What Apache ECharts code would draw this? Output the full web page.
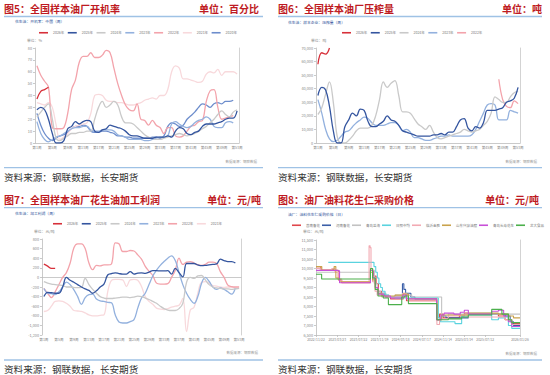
<!DOCTYPE html>
<html><head><meta charset="utf-8">
<script src="https://cdn.jsdelivr.net/npm/echarts@6/dist/echarts.min.js"></script>
<style>html,body{margin:0;padding:0;background:#fff}#c{width:550px;height:375px}</style>
</head><body><div id="c"></div>
<script>
// ---------- shared weekly categories ----------
const weeks = ['第1周','第2周','第3周','第4周','第5周','第6周','第7周','第8周','第9周','第10周','第11周','第12周','第13周','第14周','第15周','第16周','第17周','第18周','第19周','第20周','第21周','第22周','第23周','第24周','第25周','第26周','第27周','第28周','第29周','第30周','第31周','第32周','第33周','第34周','第35周','第36周','第37周','第38周','第39周','第40周','第41周','第42周','第43周','第44周','第45周','第46周','第47周','第48周','第49周','第50周','第51周','第52周','第53周'];

// ---------- Fig 5: operating rate (%) ----------
const p1Names = ['2026年','2025年','2024年','2023年','2022年','2021年','2020年'];
const p1_2026 = [37,43.5,45,47];
const p1_2025 = [28,30,28,20,8,0,0,2,12,14,18,16,18,19,18,10,9,11,12,15,14,13,12,10,7,6,6,5,4,4,4,5,5,5,6,5,10,13,12,8,7,9,10,14,16,16,16,17,18,20,21,21,27];
const p1_2024 = [22,26,30,33,20,4,2,4,6,8,8,9,9,10,10,20,30,35,30,32,35,32,22,17,17,16,13,10,7,5,4,3,3,4,5,6,7,8,7,6,7,8,10,12,14,17,20,24,27,24,22,26,28];
const p1_2023 = [18,8,3,1,3,5,6,8,10,12,13,13,14,14,11,10,10,11,11,11,10,7,6,5,3,3,3,3,2,2,3,4,5,5,6,16,18,16,14,13,14,17,19,20,22,20,14,13,13,17,18,17];
const p1_2022 = [65,57,52,47,13,12,12,13,25,45,53,68,73,73,76,72,72,74,78,76,63,50,40,32,28,27,33,20,19,15,19,15,13,8,13,13,6,5,6,10,14,15,18,19,35,44,45,30,20,21,22,23];
const p1_2021 = [34,33,32,34,30,15,3,5,8,12,14,15,16,17,25,40,41,40,36,35,35,34,34,33,32,32,33,34,36,37,38,37,40,40,45,60,65,63,54,54,53,52,51,52,58,60,59,62,57,60,60,60,58];
const p1_2020 = [25,15,8,4,2,4,6,7,9,12,14,14,15,14,10,9,9,10,10,9,8,6,6,5,5,4,4,4,4,4,5,5,4,6,14,17,16,14,15,20,23,26,30,33,32,30,33,34,33,35,35,36];

// ---------- Fig 6: crushing volume (t) ----------
const p2Names = ['2026年','2025年','2024年','2023年','2022年'];
const p2_2026 = [58000,66500,65500,70000];
const p2_2025 = [35000,41000,39000,27000,9000,0,0,12000,17000,22000,20000,25000,24000,16000,12000,12000,14000,16000,20000,17000,16000,13000,9000,8000,7000,6000,5000,5000,5000,5000,6000,6000,7000,6000,8000,8000,12000,17000,18000,11000,9000,12000,11000,15000,24000,24000,24000,25000,26000,30000,31000,33000,41000];
const p2_2024 = [21000,26000,36000,45000,30000,5000,0,0,2000,5000,9000,11000,11000,11000,13000,20000,32000,45000,41000,44000,46000,35000,23000,23000,22000,18000,14000,12000,10000,13000,8000,4000,3000,4000,5000,6000,7000,8000,10000,9000,8000,9000,10000,13000,16000,22000,34000,32000,30000,30000,34000,37000,38000];
const p2_2023 = [32000,22000,10000,3000,1000,2000,5000,8000,9000,12000,15000,17000,19000,18000,15000,13000,13000,13000,14000,15000,15000,13000,9000,10000,8000,4000,4000,3000,2000,2000,3000,4000,5000,5000,6000,5000,5000,5000,5000,5000,6000,10000,16000,22000,28000,29000,28000,17000,17000,17000,24000,23000,22000];
const p2_2022 = [null,null,null,null,null,null,null,null,null,null,null,null,null,null,null,null,null,null,null,null,null,null,null,null,null,null,null,null,null,null,null,null,null,null,null,null,null,null,null,null,null,null,null,null,null,null,null,47000,32000,27000,26000,31000,29000];

// ---------- Fig 7: processing profit (yuan/t) ----------
const p3Names = ['2026年','2025年','2024年','2023年','2022年','2021年'];
const p3_2026 = [275,235,190,190];
const p3_2025 = [-400,-310,-320,-330,-330,-200,0,-60,-100,-150,-200,-240,-270,-330,-280,-200,-140,50,80,95,80,70,70,120,70,90,95,85,110,140,140,135,135,140,70,190,100,10,290,290,290,260,245,250,260,270,280,380,350,330,330,300];
const p3_2024 = [-90,-120,-140,-150,-160,-170,-200,-200,-210,-215,-210,-20,-150,-250,-330,-400,-430,-440,-440,-430,-420,-410,-410,-420,-410,-390,-400,-430,-460,-500,-540,-600,-650,-680,-690,-690,-650,-540,-100,0,-20,30,40,-50,-150,-200,-220,-230,-240,-240,-250,-240,-230];
const p3_2023 = [-230,-330,-340,-360,-300,-200,-100,-150,-260,-400,-560,-420,-360,-350,-450,-490,-500,-520,-530,-780,-930,-950,-950,-920,-880,-640,-430,-330,-150,30,150,250,330,400,450,350,100,-150,-330,-460,-540,-400,-120,0,-80,-200,-250,-220,-250,-300,-350,-220];
const p3_2022 = [-230,-330,-420,-300,-150,0,100,300,620,700,700,600,300,160,250,240,260,260,280,720,700,540,540,560,550,470,380,230,130,40,-120,-140,-140,-130,0,150,400,270,320,330,300,260,250,270,320,320,290,120,0,-160,-190,-200,-200];
const p3_2021 = [-710,-690,-600,-500,-490,-500,-540,-600,-690,-700,-710,-740,-780,-800,-800,-790,-780,-300,-60,-40,-40,-50,-190,-50,-40,-60,-190,-400,-500,-560,-640,-660,-670,-650,-620,-600,-580,-440,-1130,-680,-620,-330,-100,-90,-120,-170,-180,-200,-210,-200,-210,-220,-230];

// ---------- Fig 8: peanut kernel purchase price (yuan/t), step series ----------
const p4Names = ['莒南鲁花','河南鲁花','青岛益海','日照中纺','临沂金胜','山东兴泉油脂','青岛长寿花生','龙大食品'];
const p4DateLabels = ['2022-11-22','2023-03-23','2023-07-22','2023-11-19','2024-03-18','2024-07-17','2024-11-14','2025-03-14','2025-07-12','2026-01-26'];
const p4Range = ['2022-11-22','2026-01-26'];
const p4_s1 = [['2022-11-22',10100],['2022-12-20',9950],['2023-02-20',9900],['2023-03-29',9400],['2023-04-17',9250],['2023-09-28',9900],['2023-10-15',9600],['2023-10-30',9200],['2023-11-12',8800],['2023-11-30',8600],['2023-12-25',8500],['2024-01-20',8400],['2024-04-02',8500],['2024-04-20',8300],['2024-10-10',7300],['2024-10-25',7600],['2024-11-15',7400],['2025-02-15',7500],['2025-03-15',7650],['2025-04-07',7600],['2025-09-25',7500],['2025-11-02',7300],['2025-12-10',7100],['2026-01-26',7100]];
const p4_s2 = [['2023-11-12',8700],['2023-12-20',8500],['2024-03-28',9200],['2024-04-05',8900],['2024-04-15',8700],['2024-05-15',8500],['2024-06-07',8400],['2024-10-08',7300],['2024-11-06',7500],['2024-12-01',7400],['2025-04-07',7600],['2025-11-02',7500],['2025-12-01',7200],['2025-12-20',7000],['2026-01-26',7000]];
const p4_s3 = [['2022-11-22',9800],['2023-09-28',9900],['2023-10-20',9200],['2023-11-05',8800],['2023-11-25',8700],['2023-12-25',8600],['2024-01-10',8500],['2024-02-15',8600],['2024-03-30',8700],['2024-04-20',8600],['2024-05-20',8500],['2024-11-06',7500],['2024-12-14',7600],['2025-04-07',7650],['2025-08-18',7600],['2026-01-26',7600]];
const p4_s4 = [['2023-01-31',10325],['2023-10-05',10325],['2023-10-18',10100],['2023-10-28',9800],['2023-11-06',9500],['2023-11-15',9200],['2023-11-25',9000],['2023-12-05',8800],['2023-12-20',8600],['2024-01-10',8500],['2024-02-15',8450],['2024-10-18',7400],['2024-10-28',7200],['2025-01-21',7100],['2025-02-28',7500],['2025-04-07',7550],['2025-08-18',7300],['2025-09-25',7400],['2025-11-02',7450],['2025-11-21',7000],['2025-12-10',6850],['2026-01-26',6850]];
const p4_s5 = [['2022-11-22',10000],['2022-12-15',9950],['2023-02-20',10000],['2023-03-10',9800],['2023-03-29',9450],['2023-04-17',9300],['2023-09-20',11200],['2023-09-26',11100],['2023-10-01',10000],['2023-10-10',9300],['2023-10-24',8800],['2023-11-05',8600],['2023-12-01',8500],['2024-03-30',8700],['2024-04-15',8600],['2024-05-01',8300],['2024-10-10',7050],['2024-10-25',7350],['2024-12-14',7500],['2025-02-15',7550],['2025-04-07',7450],['2025-11-02',7300],['2025-12-10',7050],['2026-01-26',7050]];
const p4_s6 = [['2022-11-22',10100],['2022-12-25',9900],['2023-02-25',9950],['2023-03-05',10100],['2023-03-15',9500],['2023-04-05',9300],['2023-09-28',9800],['2023-10-10',9400],['2023-10-25',9000],['2023-11-10',8700],['2023-12-01',8550],['2024-02-15',8600],['2024-04-01',8650],['2024-05-01',8400],['2024-10-10',7300],['2024-11-06',7550],['2025-04-07',7650],['2025-09-25',7600],['2025-11-21',7500],['2025-12-20',7400],['2026-01-26',7400]];
const p4_s7 = [['2022-11-22',9900],['2023-03-20',9880],['2023-04-05',9250],['2023-09-28',9900],['2023-10-12',9500],['2023-10-26',9000],['2023-11-10',8650],['2023-12-10',8550],['2024-01-20',8450],['2024-03-30',8600],['2024-04-20',8400],['2024-10-08',7300],['2024-11-01',7550],['2024-11-20',7650],['2025-01-15',7600],['2025-02-20',7700],['2025-03-15',7800],['2025-04-07',7600],['2025-08-18',7750],['2025-09-25',7800],['2025-10-25',7500],['2025-11-21',7200],['2025-12-10',6950],['2026-01-26',6950]];
const p4_s8 = [['2022-11-22',9700],['2022-12-24',9450],['2023-09-28',10000],['2023-10-10',9500],['2023-10-25',8900],['2023-11-10',8550],['2023-12-10',8450],['2024-01-08',8100],['2024-03-24',8500],['2024-04-10',8550],['2024-05-01',8150],['2024-10-10',7300],['2024-12-14',7350],['2025-02-28',7450],['2025-04-07',7550],['2025-08-18',7850],['2025-09-25',7850],['2025-10-15',7600],['2025-11-21',7300],['2025-12-10',7150],['2026-01-26',7150]];

// ---------- styling ----------
const FONT = '"Noto Sans CJK SC","Noto Sans",sans-serif';
const yearColors = {'2026年':'#d7303a','2025年':'#34559f','2024年':'#c9c9c9','2023年':'#93b1de','2022年':'#f3a3ab','2021年':'#f8d9dc','2020年':'#6d8dcc'};
const p4Colors = ['#e0474c','#3b5fa8','#c2c2c2','#5ad3df','#f2aab3','#c9a24c','#c850d8','#4cb04c'];
const toTs = s => { const a = s.split('-').map(Number); return new Date(a[0], a[1]-1, a[2]).getTime(); };
const fmtThousands = v => Number(v).toLocaleString('en-US');
const pad2 = n => (n < 10 ? '0' : '') + n;
const fmtDate = v => { const d = new Date(v); return d.getFullYear() + '/' + pad2(d.getMonth()+1) + '/' + pad2(d.getDate()); };

function lineSeries(name, data, xi, yi, color, smooth) {
  return {name, type:'line', data, xAxisIndex:xi, yAxisIndex:yi, symbol:'none', smooth: smooth,
    connectNulls:false, lineStyle:{width:1.3, color}, itemStyle:{color}};
}
function catAxis(gi, extra) {
  return Object.assign({type:'category', gridIndex:gi, data:weeks, boundaryGap:true,
    axisLine:{lineStyle:{color:'#bdbdbd', width:0.8}},
    axisTick:{interval:3, alignWithLabel:true, length:2, lineStyle:{color:'#bdbdbd', width:0.8}},
    axisLabel:{interval:3, fontSize:3.6, color:'#888', margin:3, fontFamily:FONT}}, extra || {});
}
function valAxis(gi, min, max, interval, fmt) {
  const a = {type:'value', gridIndex:gi, min, max, interval, splitLine:{show:false},
    axisLine:{show:true, lineStyle:{color:'#bdbdbd', width:0.8}},
    axisTick:{show:true, length:2, lineStyle:{color:'#bdbdbd', width:0.8}},
    axisLabel:{fontSize:3.8, color:'#888', margin:3, fontFamily:FONT}};
  if (fmt) a.axisLabel.formatter = fmt;
  return a;
}
function borderAxis(gi) {
  return {type:'value', gridIndex:gi, position:'right', min:0, max:1, splitLine:{show:false},
    axisLine:{show:true, onZero:false, lineStyle:{color:'#c8c8c8', width:0.8}}, axisTick:{show:false}, axisLabel:{show:false}};
}
function legend(left, top, names, gap) {
  return {left, top, width:262, data:names, icon:'rect', itemWidth:9, itemHeight:1.6, itemGap:gap, padding:0,
    textStyle:{fontSize:3.5, color:'#777', fontFamily:FONT}, selectedMode:false};
}
function txt(x, y, text, size, color, weight, align) {
  const font = (weight || 'normal') + ' ' + size + 'px ' + FONT;
  return {type:'text', x, y, silent:true, style:{text, fill:color, font,
    textAlign:align||'left', textVerticalAlign:'middle'}};
}
function hline(x1, x2, y, color, w) {
  return {type:'line', silent:true, shape:{x1, y1:y, x2, y2:y}, style:{stroke:color, lineWidth:w}};
}

const RED = '#be1a22', BLUE_LINE = '#9fc2e5', SUB = '#2c4f9a';
const graphics = [
  txt(4, 8, '图5：全国样本油厂开机率', 10, RED, 'bold'),
  txt(259, 8, '单位：百分比', 10, RED, 'bold', 'right'),
  txt(278, 8, '图6：全国样本油厂压榨量', 10, RED, 'bold'),
  txt(542, 8, '单位：吨', 10, RED, 'bold', 'right'),
  txt(4, 199, '图7：全国样本油厂花生油加工利润', 10, RED, 'bold'),
  txt(261, 199, '单位：元/吨', 10, RED, 'bold', 'right'),
  txt(278, 199, '图8：油厂油料花生仁采购价格', 10, RED, 'bold'),
  txt(539, 199, '单位：元/吨', 10, RED, 'bold', 'right'),
  hline(4, 263, 16.5, BLUE_LINE, 1.3), hline(278, 542, 16.5, BLUE_LINE, 1.3),
  hline(4, 263, 207.7, BLUE_LINE, 1.3), hline(278, 542, 207.7, BLUE_LINE, 1.3),
  hline(4, 263, 167.7, BLUE_LINE, 1.3), hline(278, 542, 167.7, BLUE_LINE, 1.3),
  hline(4, 263, 360, BLUE_LINE, 1.3), hline(278, 542, 360, BLUE_LINE, 1.3),
  txt(4, 177, '资料来源：钢联数据，长安期货', 9.6, '#333'),
  txt(278, 177, '资料来源：钢联数据，长安期货', 9.6, '#333'),
  txt(4, 369, '资料来源：钢联数据，长安期货', 9.6, '#333'),
  txt(278, 369, '资料来源：钢联数据，长安期货', 9.6, '#333'),
  txt(15, 21.7, '花生油：开机率：中国（周）', 3.8, SUB),
  txt(288, 22.3, '花生油：样本企业：压榨量（周）', 3.8, SUB),
  txt(15, 213.3, '花生油：加工利润（周）', 3.8, SUB),
  txt(288, 214, '油厂：油料花生仁采购价格（日）', 3.8, SUB),
  txt(27, 40.7, '单位：%', 3.8, '#888'),
  txt(311, 40.7, '单位：吨', 3.8, '#888'),
  txt(34, 231.5, '单位：元/吨', 3.8, '#888'),
  txt(303, 231, '单位：元/吨', 3.8, '#888'),
  txt(257, 161, '数据来源：钢联数据', 3.5, '#999', 'normal', 'right'),
  txt(537, 161, '数据来源：钢联数据', 3.5, '#999', 'normal', 'right'),
  txt(258, 352.5, '数据来源：钢联数据', 3.5, '#999', 'normal', 'right'),
  txt(537, 353, '数据来源：钢联数据', 3.5, '#999', 'normal', 'right')
];

const series = [];
[['2020年',p1_2020],['2021年',p1_2021],['2022年',p1_2022],['2023年',p1_2023],['2024年',p1_2024],['2025年',p1_2025],['2026年',p1_2026]]
  .forEach(([n,d]) => series.push(lineSeries(n, d, 0, 0, yearColors[n], 0.4)));
[['2022年',p2_2022],['2023年',p2_2023],['2024年',p2_2024],['2025年',p2_2025],['2026年',p2_2026]]
  .forEach(([n,d]) => series.push(lineSeries(n, d, 1, 2, yearColors[n], 0.4)));
[['2021年',p3_2021],['2022年',p3_2022],['2023年',p3_2023],['2024年',p3_2024],['2025年',p3_2025],['2026年',p3_2026]]
  .forEach(([n,d]) => series.push(lineSeries(n, d, 2, 4, yearColors[n], 0.4)));
[p4_s1,p4_s2,p4_s3,p4_s4,p4_s5,p4_s6,p4_s7,p4_s8].forEach((d,i) => {
  const s = lineSeries(p4Names[i], d.map(p => [toTs(p[0]), p[1]]), 4, 6, p4Colors[i], false);
  s.step = 'end'; s.lineStyle.width = 1.1;
  series.push(s);
});

const p4Ticks = p4DateLabels.map(toTs);
const option = {
  animation:false,
  backgroundColor:'#fff',
  textStyle:{fontFamily:FONT},
  grid:[
    {left:35, top:48, width:204, height:95},
    {left:316, top:48, width:204, height:95},
    {left:42, top:239, width:199, height:96},
    {left:316, top:240, width:204, height:95}
  ],
  xAxis:[
    catAxis(0),
    catAxis(1),
    catAxis(2, {axisLine:{show:false, onZero:false}, axisTick:{show:false}}),
    catAxis(2, {axisLine:{show:true, onZero:true, lineStyle:{color:'#bdbdbd', width:0.8}}, axisLabel:{show:false}}),
    {type:'value', gridIndex:3, min:toTs(p4Range[0]), max:toTs(p4Range[1]), splitLine:{show:false},
     axisLine:{lineStyle:{color:'#bdbdbd', width:0.8}},
     axisTick:{show:true, length:2, customValues:p4Ticks, lineStyle:{color:'#bdbdbd', width:0.8}},
     axisLabel:{fontSize:3.4, color:'#888', margin:3, fontFamily:FONT, customValues:p4Ticks, formatter: fmtDate}}
  ],
  yAxis:[
    valAxis(0, 0, 80, 10),
    borderAxis(0),
    valAxis(1, 0, 70000, 10000, fmtThousands),
    borderAxis(1),
    valAxis(2, -1200, 800, 200, fmtThousands),
    borderAxis(2),
    valAxis(3, 6500, 11500, 500, fmtThousands),
    borderAxis(3)
  ],
  legend:[
    legend(39, 31, p1Names, 3.5),
    legend(342, 31, p2Names, 3.5),
    legend(53, 222, p3Names, 3.5),
    legend(292, 223.5, p4Names, 2)
  ],
  graphic:{elements:graphics},
  series
};
const chart = echarts.init(document.getElementById('c'), null, {renderer:'svg'});
chart.setOption(option);
</script>
</body></html>
